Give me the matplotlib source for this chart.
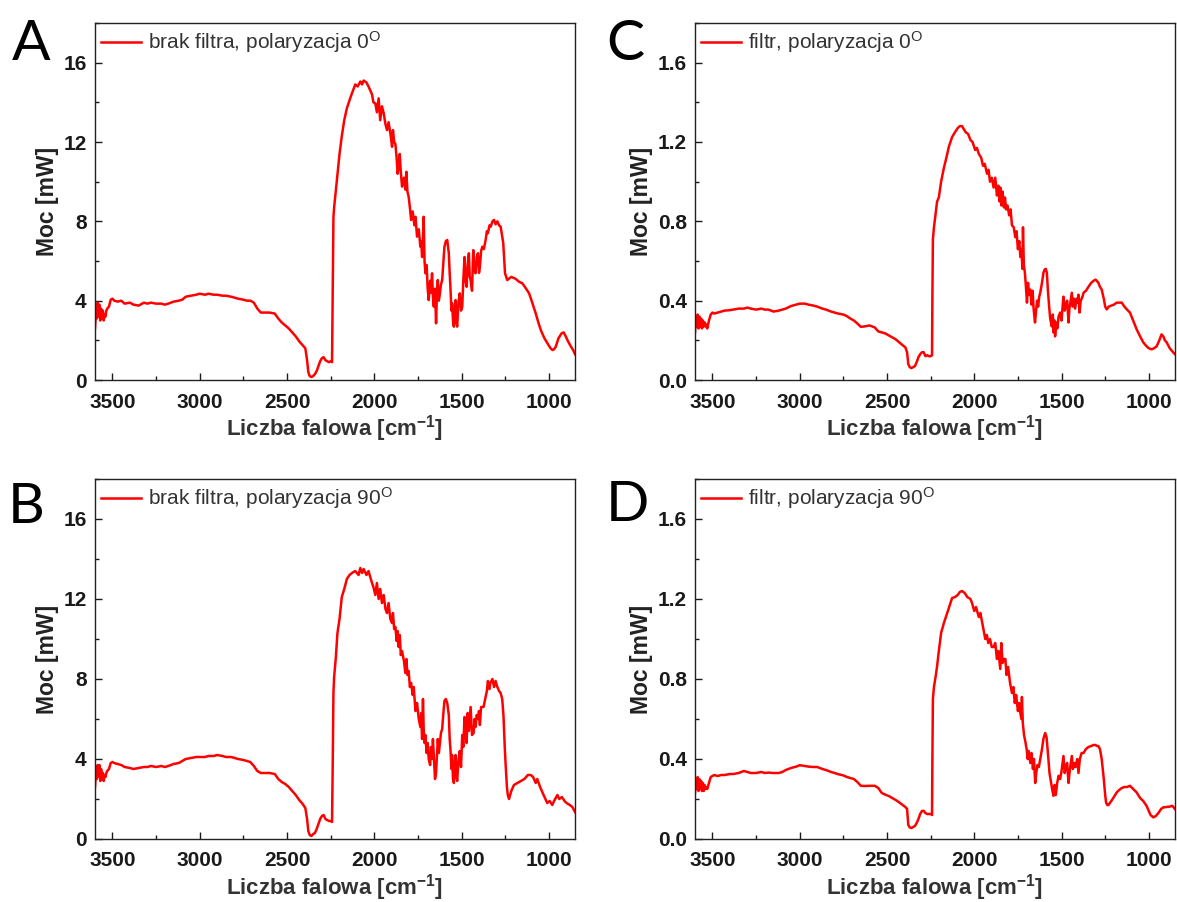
import matplotlib
matplotlib.use("Agg")
import matplotlib.pyplot as plt
from matplotlib.ticker import MultipleLocator

# ---------------- data ----------------
wn_low = [3600, 3595, 3590, 3585, 3580, 3575, 3570, 3565, 3560, 3555,
          3550, 3545, 3540, 3535, 3530, 3520, 3510, 3500, 3490, 3470,
          3450, 3430, 3400, 3380, 3350, 3320, 3300, 3280, 3250, 3220,
          3200, 3180, 3150, 3120, 3100, 3080, 3050, 3020, 3000, 2970,
          2950, 2920, 2900, 2870, 2850, 2820, 2800, 2780, 2750, 2730,
          2710, 2690, 2670, 2650, 2630, 2600, 2570, 2550, 2530, 2510,
          2490, 2470, 2450, 2430, 2410, 2395, 2385, 2378, 2370, 2360,
          2350, 2340, 2330, 2320, 2310, 2300, 2290, 2280, 2270, 2260,
          2250, 2242]

A_low = [2.6, 3.4, 3.1, 3.9, 3.2, 3.8, 3.0, 3.6, 3.1, 3.5,
         3.0, 3.3, 3.2, 3.5, 3.6, 3.7, 4.05, 4.1, 4.0, 3.95,
         4.0, 3.85, 3.9, 3.8, 3.75, 3.9, 3.85, 3.9, 3.85, 3.85,
         3.8, 3.85, 3.95, 4.0, 4.05, 4.2, 4.25, 4.3, 4.35, 4.3,
         4.35, 4.3, 4.3, 4.25, 4.25, 4.2, 4.15, 4.1, 4.05, 4.0,
         4.0, 3.9, 3.6, 3.4, 3.4, 3.4, 3.35, 3.1, 2.9, 2.75,
         2.6, 2.4, 2.2, 1.95, 1.75, 1.6, 1.0, 0.4, 0.2, 0.15,
         0.2, 0.3, 0.45, 0.7, 0.95, 1.1, 1.15, 1.0, 0.95, 0.9,
         0.95, 0.9]

B_low = [2.6, 3.3, 3.0, 3.7, 3.1, 3.7, 2.9, 3.5, 3.0, 3.3,
         2.9, 3.2, 3.1, 3.3, 3.4, 3.5, 3.8, 3.85, 3.8, 3.75,
         3.7, 3.6, 3.55, 3.5, 3.55, 3.6, 3.6, 3.65, 3.6, 3.65,
         3.6, 3.65, 3.75, 3.8, 3.9, 4.0, 4.05, 4.1, 4.1, 4.1,
         4.15, 4.15, 4.2, 4.15, 4.1, 4.1, 4.05, 4.0, 3.95, 3.9,
         3.85, 3.65, 3.4, 3.3, 3.3, 3.3, 3.25, 3.0, 2.85, 2.75,
         2.6, 2.4, 2.2, 1.95, 1.75, 1.55, 1.0, 0.4, 0.2, 0.15,
         0.25, 0.3, 0.5, 0.75, 1.0, 1.15, 1.2, 1.0, 0.95, 0.9,
         0.9, 0.85]

C_low = [0.24, 0.30, 0.27, 0.33, 0.26, 0.32, 0.27, 0.31, 0.26, 0.30,
         0.27, 0.29, 0.27, 0.28, 0.26, 0.30, 0.33, 0.34, 0.335, 0.34,
         0.345, 0.35, 0.352, 0.355, 0.36, 0.36, 0.365, 0.36, 0.355, 0.36,
         0.355, 0.355, 0.345, 0.35, 0.355, 0.36, 0.373, 0.38, 0.385, 0.385,
         0.38, 0.375, 0.37, 0.36, 0.355, 0.345, 0.34, 0.335, 0.33, 0.322,
         0.31, 0.30, 0.285, 0.268, 0.27, 0.275, 0.265, 0.245, 0.24, 0.235,
         0.225, 0.215, 0.205, 0.19, 0.175, 0.165, 0.14, 0.08, 0.065, 0.06,
         0.065, 0.07, 0.09, 0.115, 0.13, 0.14, 0.14, 0.12, 0.125, 0.12,
         0.12, 0.125]

D_low = [0.23, 0.29, 0.25, 0.31, 0.24, 0.30, 0.25, 0.29, 0.24, 0.28,
         0.24, 0.27, 0.25, 0.26, 0.25, 0.28, 0.31, 0.315, 0.32, 0.315,
         0.32, 0.32, 0.325, 0.325, 0.33, 0.34, 0.335, 0.33, 0.33, 0.335,
         0.33, 0.332, 0.33, 0.33, 0.335, 0.345, 0.355, 0.362, 0.369, 0.365,
         0.362, 0.36, 0.36, 0.35, 0.345, 0.335, 0.33, 0.324, 0.318, 0.31,
         0.305, 0.30, 0.285, 0.266, 0.265, 0.266, 0.266, 0.255, 0.23, 0.222,
         0.215, 0.205, 0.195, 0.183, 0.17, 0.16, 0.15, 0.07, 0.058, 0.055,
         0.06, 0.065, 0.08, 0.10, 0.125, 0.14, 0.141, 0.13, 0.125, 0.125,
         0.125, 0.12]

A_wn_hi = [2238, 2234, 2230, 2218, 2211, 2199, 2186, 2172, 2157, 2142,
           2128, 2109, 2095, 2080, 2070, 2061, 2045, 2033, 2013, 2005,
           1994, 1985, 1975, 1966, 1956, 1946, 1936, 1927, 1918, 1908,
           1898, 1893, 1886, 1879, 1872, 1866, 1860, 1854, 1848, 1841,
           1830, 1822, 1816, 1810, 1803, 1796, 1789, 1780, 1770, 1764,
           1755, 1745, 1736, 1731, 1726, 1721, 1717, 1712, 1707, 1700,
           1694, 1688, 1680, 1675, 1669, 1664, 1659, 1652, 1646, 1641,
           1636, 1630, 1624, 1618, 1611, 1605, 1598, 1590, 1582, 1573,
           1568, 1563, 1558, 1554, 1549, 1544, 1539, 1534, 1530, 1525,
           1518, 1510, 1503, 1496, 1490, 1483, 1477, 1471, 1465, 1458,
           1453, 1448, 1440, 1433, 1427, 1420, 1413, 1406, 1400, 1395,
           1388, 1381, 1372, 1362, 1355, 1349, 1340, 1333, 1323, 1314,
           1305, 1295, 1285, 1276, 1261, 1251, 1238, 1215, 1190, 1170,
           1151, 1130, 1113, 1095, 1075, 1060, 1046, 1025, 1008, 990,
           979, 970, 960, 945, 927, 915, 902, 890, 873, 860,
           850]
A_hi = [4.5, 8.2, 8.7, 9.75, 10.4, 11.4, 12.3, 13.1, 13.7, 14.1,
        14.45, 14.9, 14.8, 15.05, 14.9, 15.1, 15.0, 14.8, 14.4, 14.0,
        13.95, 13.5, 14.2, 13.1, 13.8, 13.45, 12.9, 12.6, 13.0, 12.45,
        11.76, 12.6, 12.0, 11.9, 11.2, 10.4, 10.8, 11.4, 10.5, 9.75,
        10.2, 9.6, 10.5, 9.5, 9.24, 8.7, 8.07, 8.5, 7.8, 8.23,
        7.23, 7.6, 6.72, 7.0, 6.2, 7.2, 8.23, 6.0, 5.38, 5.8,
        4.6, 4.03, 5.0, 4.4, 5.38, 4.2, 3.7, 4.6, 2.86, 4.4,
        5.04, 4.0, 4.37, 4.8, 5.04, 5.8, 6.72, 7.0, 7.06, 6.39,
        5.4, 4.54, 3.5, 3.87, 3.0, 2.69, 3.6, 4.03, 2.9, 2.69,
        3.9, 4.37, 3.5, 3.7, 5.0, 6.2, 5.0, 4.7, 5.8, 6.39,
        5.2, 5.04, 4.5, 6.55, 5.6, 5.38, 6.2, 6.39, 5.4, 5.7,
        6.5, 6.72, 6.6, 7.06, 7.5, 7.4, 7.8, 7.73, 8.0, 8.07,
        7.85, 8.0, 7.8, 7.73, 6.9, 5.38, 5.04, 5.2, 5.1, 4.95,
        4.87, 4.6, 4.37, 3.9, 3.36, 2.9, 2.52, 2.1, 1.85, 1.6,
        1.51, 1.55, 1.68, 2.1, 2.35, 2.4, 2.18, 1.95, 1.68, 1.5,
        1.3]

B_wn_hi = [2238, 2234, 2230, 2220, 2211, 2199, 2186, 2172, 2157, 2142,
           2128, 2109, 2090, 2080, 2070, 2061, 2045, 2033, 2013, 2005,
           1994, 1985, 1975, 1966, 1956, 1946, 1936, 1927, 1918, 1908,
           1898, 1893, 1886, 1879, 1872, 1866, 1860, 1854, 1848, 1841,
           1830, 1822, 1816, 1810, 1803, 1796, 1789, 1780, 1774, 1764,
           1755, 1745, 1736, 1731, 1726, 1721, 1717, 1712, 1707, 1700,
           1694, 1688, 1680, 1675, 1669, 1664, 1659, 1652, 1646, 1641,
           1636, 1630, 1624, 1618, 1611, 1605, 1598, 1590, 1582, 1573,
           1568, 1563, 1558, 1554, 1549, 1544, 1539, 1534, 1530, 1525,
           1518, 1510, 1503, 1496, 1490, 1483, 1477, 1471, 1465, 1458,
           1448, 1440, 1431, 1425, 1420, 1413, 1406, 1400, 1395, 1388,
           1374, 1362, 1355, 1349, 1340, 1335, 1323, 1314, 1305, 1295,
           1285, 1276, 1267, 1260, 1252, 1247, 1240, 1235, 1228, 1215,
           1200, 1180, 1160, 1140, 1120, 1103, 1090, 1075, 1066, 1050,
           1030, 1009, 995, 980, 970, 951, 940, 925, 910, 898,
           880, 865, 850]
B_hi = [3.8, 7.3, 8.1, 9.1, 10.3, 11.0, 12.1, 12.5, 13.0, 13.2,
        13.3, 13.4, 13.2, 13.55, 13.3, 13.5, 13.2, 13.4, 12.8, 12.6,
        12.2, 12.8, 12.0, 12.5, 11.8, 12.2, 11.5, 11.3, 11.8, 11.0,
        10.8, 11.3, 10.5, 10.6, 9.9, 10.4, 9.6, 10.2, 9.2, 9.4,
        8.9, 8.3, 9.0, 8.2, 8.4, 7.6, 7.8, 7.2, 7.6, 6.4,
        6.8, 6.0, 5.6, 6.3, 5.0, 7.0, 5.5, 4.8, 5.2, 4.3,
        4.8, 4.0, 3.7, 4.6, 4.0, 5.0, 4.2, 3.0, 3.3, 4.2,
        5.0, 4.3, 4.8, 5.3, 5.5, 6.2, 6.9, 7.0, 6.8, 6.2,
        5.0, 4.4, 3.5, 4.2, 3.0, 2.8, 3.8, 4.2, 3.1, 2.9,
        3.9, 4.4, 3.6, 5.2, 4.6, 6.1, 5.2, 4.8, 6.3, 5.4,
        6.6, 5.2, 5.3, 6.0, 5.6, 6.2, 6.0, 6.4, 5.7, 6.6,
        6.6, 7.1, 7.4, 7.9, 7.5, 7.8, 8.0, 7.6, 7.9, 7.6,
        7.4, 7.3, 7.0, 6.2, 4.5, 3.65, 2.6, 2.2, 2.0, 2.4,
        2.7, 2.8, 2.9, 3.0, 3.2, 3.2, 3.1, 2.8, 3.0, 2.6,
        2.2, 1.8, 1.9, 1.7, 1.9, 2.2, 2.0, 2.1, 1.9, 1.8,
        1.7, 1.6, 1.35]

C_wn_hi = [2240, 2237, 2231, 2220, 2213, 2203, 2190, 2174, 2160, 2146,
           2127, 2110, 2095, 2083, 2070, 2050, 2035, 2022, 2010, 1995,
           1985, 1974, 1960, 1950, 1940, 1927, 1918, 1910, 1900, 1889,
           1880, 1870, 1862, 1855, 1850, 1845, 1838, 1830, 1824, 1818,
           1810, 1800, 1792, 1784, 1774, 1765, 1758, 1750, 1742, 1736,
           1730, 1724, 1721, 1716, 1710, 1704, 1698, 1692, 1686, 1679,
           1672, 1666, 1660, 1652, 1646, 1640, 1634, 1628, 1622, 1612,
           1604, 1597, 1590, 1584, 1578, 1571, 1565, 1556, 1550, 1546,
           1541, 1537, 1530, 1524, 1517, 1508, 1500, 1494, 1489, 1482,
           1475, 1468, 1460, 1455, 1448, 1441, 1436, 1430, 1422, 1415,
           1408, 1403, 1397, 1390, 1380, 1374, 1360, 1346, 1330, 1317,
           1305, 1298, 1289, 1280, 1270, 1258, 1250, 1241, 1230, 1215,
           1200, 1184, 1170, 1155, 1140, 1125, 1108, 1090, 1070, 1050,
           1032, 1013, 1000, 984, 970, 955, 940, 927, 917, 908,
           898, 880, 861, 850]
C_hi = [0.41, 0.71, 0.77, 0.85, 0.90, 0.92, 1.0, 1.07, 1.12, 1.175,
        1.225, 1.25, 1.27, 1.28, 1.28, 1.25, 1.24, 1.21, 1.2, 1.16,
        1.17, 1.14, 1.12, 1.08, 1.09, 1.04, 1.06, 1.0, 1.02, 0.97,
        1.02, 0.93, 0.98, 0.90, 0.97, 0.88, 0.95, 0.87, 0.92, 0.86,
        0.88, 0.83, 0.86, 0.78, 0.77, 0.72, 0.75, 0.66, 0.70, 0.62,
        0.66, 0.56, 0.77, 0.58, 0.54, 0.47, 0.39, 0.49, 0.43, 0.456,
        0.38, 0.45, 0.36, 0.29, 0.35, 0.40, 0.37, 0.42, 0.44, 0.49,
        0.54, 0.557, 0.56, 0.54, 0.45, 0.37, 0.31, 0.27, 0.33, 0.24,
        0.30, 0.22, 0.29, 0.26, 0.32, 0.34, 0.30, 0.37, 0.42, 0.35,
        0.38, 0.40, 0.29, 0.36, 0.40, 0.44, 0.37, 0.41, 0.36, 0.41,
        0.39, 0.43, 0.34, 0.40, 0.42, 0.44, 0.45, 0.47, 0.49, 0.50,
        0.506, 0.50, 0.49, 0.47, 0.456, 0.41, 0.37, 0.356, 0.37, 0.375,
        0.38, 0.39, 0.39, 0.39, 0.37, 0.355, 0.34, 0.30, 0.256, 0.22,
        0.19, 0.17, 0.16, 0.155, 0.16, 0.17, 0.20, 0.23, 0.22, 0.20,
        0.19, 0.16, 0.14, 0.13]

D_wn_hi = [2240, 2237, 2231, 2220, 2213, 2203, 2190, 2174, 2155, 2140,
           2127, 2110, 2095, 2083, 2070, 2055, 2040, 2022, 2013, 2000,
           1990, 1974, 1965, 1950, 1937, 1928, 1920, 1910, 1900, 1889,
           1880, 1870, 1862, 1851, 1845, 1838, 1830, 1822, 1815, 1806,
           1795, 1784, 1776, 1768, 1760, 1750, 1743, 1736, 1730, 1727,
           1722, 1715, 1708, 1700, 1694, 1688, 1679, 1672, 1664, 1658,
           1651, 1645, 1638, 1630, 1622, 1612, 1604, 1594, 1586, 1580,
           1569, 1560, 1554, 1546, 1540, 1533, 1525, 1517, 1508, 1500,
           1489, 1482, 1475, 1468, 1460, 1452, 1441, 1435, 1428, 1420,
           1410, 1403, 1395, 1385, 1374, 1360, 1346, 1330, 1317, 1305,
           1298, 1289, 1280, 1270, 1258, 1250, 1245, 1238, 1231, 1215,
           1200, 1184, 1170, 1155, 1140, 1125, 1108, 1090, 1070, 1050,
           1032, 1013, 1000, 990, 974, 960, 945, 930, 917, 900,
           880, 865, 850]
D_hi = [0.40, 0.70, 0.76, 0.82, 0.864, 0.94, 1.03, 1.08, 1.13, 1.17,
        1.205, 1.21, 1.22, 1.235, 1.24, 1.23, 1.21, 1.20, 1.18, 1.14,
        1.16, 1.11, 1.13, 1.06, 1.0, 1.02, 0.98, 1.0, 0.96, 0.96,
        0.98, 0.90, 0.94, 0.85, 0.98, 0.88, 0.90, 0.9, 0.82, 0.86,
        0.78, 0.73, 0.76, 0.68, 0.72, 0.64, 0.68, 0.63, 0.60, 0.71,
        0.58, 0.52, 0.49, 0.45, 0.40, 0.44, 0.38, 0.43, 0.35, 0.40,
        0.28, 0.33, 0.37, 0.36, 0.40, 0.45, 0.50, 0.53, 0.51, 0.45,
        0.33, 0.28, 0.25, 0.216, 0.27, 0.22, 0.28, 0.316, 0.30, 0.34,
        0.415, 0.33, 0.36, 0.38, 0.28, 0.35, 0.415, 0.35, 0.38, 0.36,
        0.40, 0.33, 0.40, 0.43, 0.43, 0.45, 0.46, 0.465, 0.47, 0.47,
        0.465, 0.465, 0.45, 0.40, 0.30, 0.22, 0.183, 0.17, 0.17, 0.19,
        0.21, 0.233, 0.245, 0.255, 0.26, 0.26, 0.266, 0.25, 0.233, 0.205,
        0.19, 0.166, 0.14, 0.12, 0.108, 0.115, 0.13, 0.15, 0.158, 0.16,
        0.162, 0.166, 0.15]

labels = {
    "A": "brak filtra, polaryzacja 0$^\\mathregular{O}$",
    "B": "brak filtra, polaryzacja 90$^\\mathregular{O}$",
    "C": "filtr, polaryzacja 0$^\\mathregular{O}$",
    "D": "filtr, polaryzacja 90$^\\mathregular{O}$",
}
x_label = "Liczba falowa [cm$^\\mathregular{-1}$]"
y_label = "Moc [mW]"

panels = {
    "A": (wn_low + A_wn_hi, A_low + A_hi, 18, 4),
    "B": (wn_low + B_wn_hi, B_low + B_hi, 18, 4),
    "C": (wn_low + C_wn_hi, C_low + C_hi, 1.8, 0.4),
    "D": (wn_low + D_wn_hi, D_low + D_hi, 1.8, 0.4),
}

# ---------------- figure ----------------
plt.rcParams["font.family"] = ["Liberation Sans", "DejaVu Sans"]
plt.rcParams["mathtext.default"] = "regular"
plt.rcParams["mathtext.fontset"] = "custom"
plt.rcParams["mathtext.rm"] = "Liberation Sans"

W, H = 1177, 902
fig = plt.figure(figsize=(W / 100, H / 100), dpi=100)

# axes boxes in pixels: left, top, right, bottom
boxes = {
    "A": (95, 23, 575, 380),
    "B": (95, 479, 575, 839),
    "C": (695, 23, 1175, 380),
    "D": (695, 479, 1175, 839),
}
letter_pos = {"A": (12, 60), "B": (8, 523), "C": (606, 60), "D": (606, 521)}

text_col = "#1a1a1a"
for key, (l, t, r, b) in boxes.items():
    ax = fig.add_axes([l / W, 1 - b / H, (r - l) / W, (b - t) / H])
    wn, pw, ymax, ystep = panels[key]
    ax.plot(wn, pw, color="#ff0000", lw=1.8, label=labels[key])
    ax.set_xlim(3600, 850)
    ax.set_ylim(0, ymax)
    ax.xaxis.set_major_locator(MultipleLocator(500))
    ax.xaxis.set_minor_locator(MultipleLocator(250))
    ax.yaxis.set_major_locator(MultipleLocator(ystep))
    ax.yaxis.set_minor_locator(MultipleLocator(ystep / 2))
    ax.tick_params(which="both", direction="in", top=False, right=False,
                   width=1.0, colors=text_col)
    ax.tick_params(which="major", length=5)
    ax.tick_params(which="minor", length=3)
    ax.tick_params(axis="x", which="major", pad=9)
    ax.tick_params(axis="y", which="major", pad=6)
    for lab in ax.get_xticklabels() + ax.get_yticklabels():
        lab.set_fontsize(15)
        lab.set_fontweight("bold")
        lab.set_color(text_col)
    for sp in ax.spines.values():
        sp.set_linewidth(1.0)
        sp.set_color("#222222")
    ax.set_xlabel(x_label, fontsize=16, fontweight="bold", color="#333333", labelpad=1.5)
    ax.set_ylabel(y_label, fontsize=16.5, fontweight="bold", color="#222222", labelpad=3)
    leg = ax.legend(loc="upper left", frameon=False, fontsize=15,
                    handlelength=1.9, handletextpad=0.35,
                    borderaxespad=0.1, borderpad=0.2)
    for txt in leg.get_texts():
        txt.set_color("#333333")
    lx, ly = letter_pos[key]
    fig.text(lx / W, 1 - ly / H, key, fontsize=41, family=["Lato", "DejaVu Sans"],
             color="black", va="baseline", ha="left")

fig.savefig("out.png", dpi=100)
